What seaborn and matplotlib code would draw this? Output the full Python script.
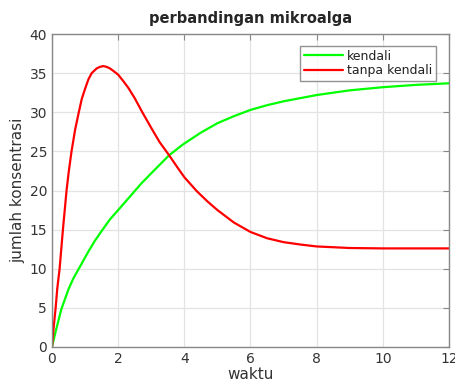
import matplotlib
matplotlib.use("Agg")
import matplotlib.pyplot as plt
import seaborn as sns
import pandas as pd

# Time samples and concentrations for the controlled culture
t_kendali = [0, 0.1, 0.28, 0.5, 0.65, 0.81, 1.1, 1.3, 1.53, 1.75, 2.0, 2.31, 2.7,
             3.0, 3.54, 3.9, 4.0, 4.5, 5.0, 5.5, 6.0, 6.5, 7.0, 8.0, 9.0, 10.0,
             11.0, 12.0]
y_kendali = [0, 1.8, 4.8, 7.4, 8.8, 10.0, 12.2, 13.6, 15.0, 16.3, 17.5, 19.0, 20.9,
             22.2, 24.5, 25.7, 26.0, 27.4, 28.6, 29.5, 30.3, 30.9, 31.4, 32.2, 32.8,
             33.2, 33.5, 33.7]

# Time samples and concentrations for the uncontrolled culture
t_tanpa = [0, 0.02, 0.05, 0.11, 0.16, 0.23, 0.33, 0.44, 0.5, 0.59, 0.7, 0.81, 0.9,
           1.0, 1.1, 1.2, 1.35, 1.45, 1.55, 1.65, 1.75, 1.85, 2.0, 2.17, 2.31, 2.5,
           2.73, 3.0, 3.25, 3.54, 3.8, 4.0, 4.38, 4.7, 5.0, 5.5, 6.0, 6.5, 7.0, 7.5,
           8.0, 9.0, 10.0, 11.0, 12.0]
y_tanpa = [0, 1.0, 2.5, 5.0, 7.5, 10.0, 15.0, 20.0, 22.2, 25.0, 27.8, 30.0, 31.7,
           33.0, 34.2, 35.0, 35.6, 35.8, 35.9, 35.8, 35.6, 35.3, 34.8, 33.9, 33.1, 31.8,
           30.0, 28.0, 26.2, 24.5, 22.9, 21.7, 19.9, 18.6, 17.5, 15.9, 14.7, 13.9, 13.4,
           13.1, 12.85, 12.65, 12.6, 12.6, 12.6]

x_ticks = [0, 2, 4, 6, 8, 10, 12]
y_ticks = [0, 5, 10, 15, 20, 25, 30, 35, 40]

sns.set_style("white")
plt.rcParams["font.family"] = ["DejaVu Sans"]

df = pd.concat([
    pd.DataFrame({"waktu": t_kendali, "nilai": y_kendali, "seri": "kendali"}),
    pd.DataFrame({"waktu": t_tanpa, "nilai": y_tanpa, "seri": "tanpa kendali"}),
])

fig = plt.figure(figsize=(4.55, 3.83), dpi=100)
ax = fig.add_axes([52 / 455, 36 / 383, 397 / 455, 313 / 383])

sns.lineplot(data=df, x="waktu", y="nilai", hue="seri", sort=False,
             palette={"kendali": "#00ff00", "tanpa kendali": "#ff0000"},
             linewidth=1.6, ax=ax, estimator=None)

ax.set_xlim(0, 12)
ax.set_ylim(0, 40)
ax.set_xticks(x_ticks)
ax.set_yticks(y_ticks)
ax.grid(True, color="#e3e3e3", linewidth=0.9)
ax.set_axisbelow(True)
for s in ax.spines.values():
    s.set_color("#888888")
    s.set_linewidth(1.0)
ax.tick_params(direction="in", top=True, right=True, length=4, width=0.8,
               colors="#888888", labelcolor="#333333", labelsize=10)

ax.set_title("perbandingan mikroalga", fontsize=10.5, fontweight="bold", pad=8)
ax.set_xlabel("waktu", fontsize=11, color="#333333", labelpad=1)
ax.set_ylabel("jumlah konsentrasi", fontsize=11, color="#333333", labelpad=3)

leg = ax.legend(loc="upper right", bbox_to_anchor=(0.966, 0.962), fontsize=9,
                frameon=True, fancybox=False, borderpad=0.3, labelspacing=0.1,
                handlelength=3.1, handletextpad=0.3, borderaxespad=0.0)
leg.get_frame().set_edgecolor("#777777")
leg.get_frame().set_linewidth(1.0)
for t in leg.get_texts():
    t.set_color("#222222")

fig.savefig("out.png", dpi=100)
